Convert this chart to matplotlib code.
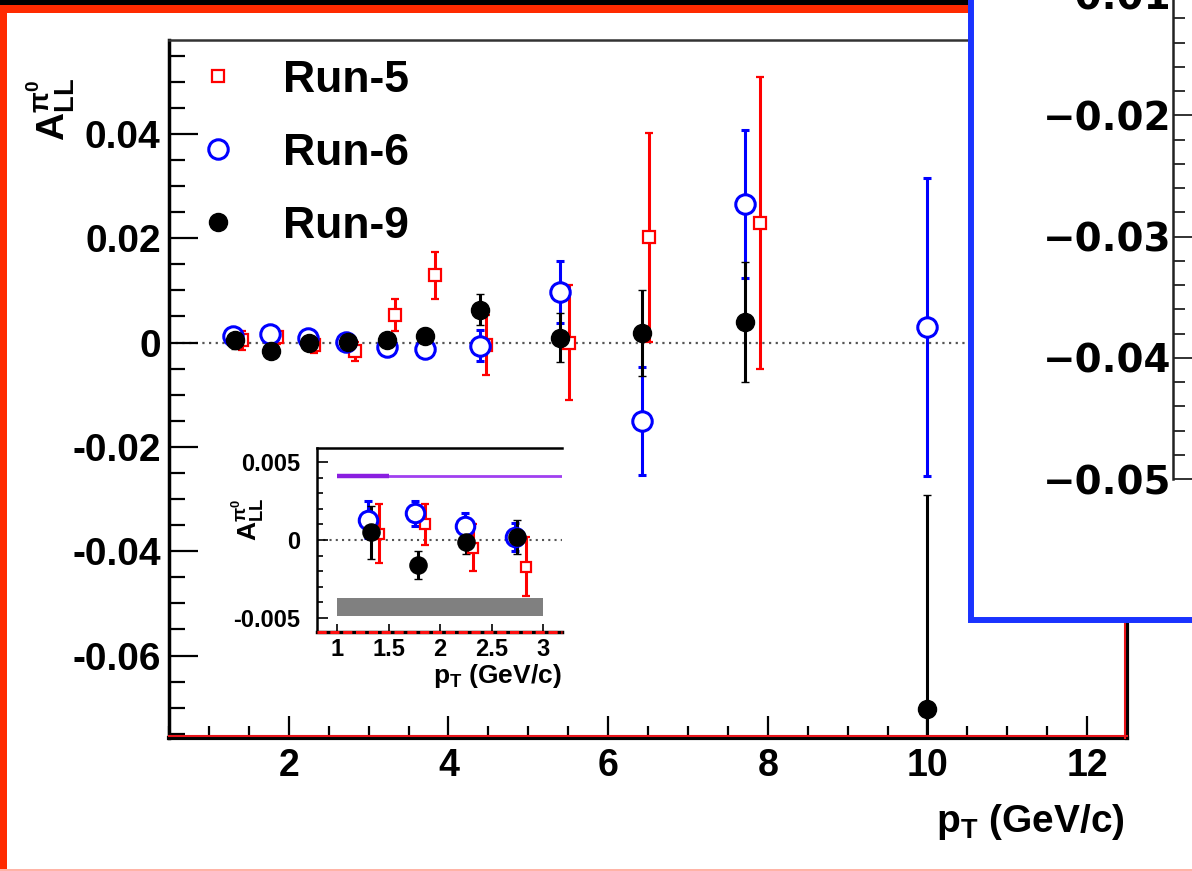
import matplotlib
matplotlib.use('Agg')
import matplotlib.pyplot as plt
from matplotlib.patches import Rectangle
from matplotlib.lines import Line2D
import matplotlib.transforms as mtransforms
import numpy as np

plt.rcParams['font.family'] = ['Liberation Sans', 'DejaVu Sans']
plt.rcParams['font.weight'] = 'bold'
plt.rcParams['mathtext.default'] = 'regular'
plt.rcParams['axes.unicode_minus'] = False

# ---------------- data ----------------
run5_pt = [1.41, 1.85, 2.32, 2.83, 3.33, 3.83, 4.47, 5.51, 6.51, 7.90]
run5_all = [0.0004, 0.0010, -0.0005, -0.0017, 0.0053, 0.0129, -0.0005, 0.0000, 0.0202, 0.0229]
run5_err = [0.0019, 0.0013, 0.0015, 0.0019, 0.0030, 0.0045, 0.0057, 0.0110, 0.0200, 0.0280]

run6_pt = [1.30, 1.76, 2.24, 2.72, 3.23, 3.71, 4.40, 5.40, 6.42, 7.71, 10.0]
run6_all = [0.0013, 0.0017, 0.0009, 0.0002, -0.0008, -0.0013, -0.0006, 0.0097, -0.0150, 0.0265, 0.0030]
run6_err = [0.0012, 0.0008, 0.0008, 0.0009, 0.0010, 0.0015, 0.0030, 0.0060, 0.0104, 0.0142, 0.0285]

run9_pt = [1.33, 1.78, 2.25, 2.74, 3.23, 3.71, 4.39, 5.40, 6.42, 7.71, 10.0]
run9_all = [0.0005, -0.0016, -0.0001, 0.0002, 0.0005, 0.0012, 0.0063, 0.0009, 0.0018, 0.0040, -0.0702]
run9_err = [0.0017, 0.0009, 0.0008, 0.0011, 0.0010, 0.0015, 0.0030, 0.0047, 0.0082, 0.0115, 0.0410]

labels = ['Run-5', 'Run-6', 'Run-9']

main_xticks = [2, 4, 6, 8, 10, 12]
main_xticklabels = ['2', '4', '6', '8', '10', '12']
main_yticks = [-0.06, -0.04, -0.02, 0.0, 0.02, 0.04]
main_yticklabels = ['-0.06', '-0.04', '-0.02', '0', '0.02', '0.04']

inset_xticks = [1, 1.5, 2, 2.5, 3]
inset_xticklabels = ['1', '1.5', '2', '2.5', '3']
inset_yticks = [-0.005, 0.0, 0.005]
inset_yticklabels = ['-0.005', '0', '0.005']
inset_pt_max = 3.0

purple_level = 0.0041
purple_thick_range = [1.0, 1.5]
purple_start = 1.0
band_x = [1.0, 3.0]
band_y = [-0.0049, -0.0037]

box_yticks = [-0.05, -0.04, -0.03, -0.02, -0.01]
box_yticklabels = ['\u22120.05', '\u22120.04', '\u22120.03', '\u22120.02', '\u22120.01']

# ---------------- figure ----------------
W, H = 1192, 871
fig = plt.figure(figsize=(W / 100, H / 100), dpi=100)


def fbox(l, t, r, b):
    return [l / W, 1 - b / H, (r - l) / W, (b - t) / H]


def px_rect(l, t, r, b, **kw):
    fig.add_artist(Rectangle((l / W, 1 - b / H), (r - l) / W, (b - t) / H,
                             transform=fig.transFigure, **kw))


RED = '#ff0000'
BLUE = '#0000ff'
BLACK = '#000000'

series = [
    (run5_pt, run5_all, run5_err, dict(marker='s', color=RED, mfc='white', mec=RED, ms=8, mew=1.6)),
    (run6_pt, run6_all, run6_err, dict(marker='o', color=BLUE, mfc='white', mec=BLUE, ms=14, mew=2.2)),
    (run9_pt, run9_all, run9_err, dict(marker='o', color=BLACK, mfc=BLACK, mec=BLACK, ms=13, mew=1)),
]

# ---------------- main axes ----------------
ax = fig.add_axes(fbox(169, 40, 1127, 738))
ax.set_zorder(0)
ax.set_xlim(0.5, 12.5)
ax.set_ylim(-0.0758, 0.058)
ax.set_xticks(main_xticks)
ax.set_xticklabels(main_xticklabels)
ax.set_yticks(main_yticks)
ax.set_yticklabels(main_yticklabels)
ax.set_xticks(np.arange(0.5, 12.51, 0.5), minor=True)
ax.set_yticks(np.arange(-0.075, 0.0551, 0.005), minor=True)
ax.tick_params(axis='both', which='both', direction='in', top=False, right=False, color='black')
ax.tick_params(axis='y', which='major', length=21, width=1.6, labelsize=28, pad=6)
ax.tick_params(axis='y', which='minor', length=11.5, width=1.6)
ax.tick_params(axis='x', which='major', length=16, width=1.6, labelsize=27, pad=7)
ax.tick_params(axis='x', which='minor', length=8.5, width=1.6)
ax.spines['left'].set_linewidth(2.5)
ax.spines['top'].set_linewidth(1.8)
ax.spines['top'].set_color('#333333')
for s in ['bottom', 'right']:
    ax.spines[s].set_linewidth(3.0)
    ax.spines[s].set_color('black')
tb = mtransforms.offset_copy(ax.transAxes, fig=fig, x=0, y=1.6, units='dots')
ax.add_line(Line2D([0, 1], [0, 0], transform=tb, color='#e8141a', lw=1.5, clip_on=False, zorder=5))
tr = mtransforms.offset_copy(ax.transAxes, fig=fig, x=-1.6, y=0, units='dots')
ax.add_line(Line2D([1, 1], [0, 1], transform=tr, color='#e8141a', lw=1.5, clip_on=False, zorder=5))

ax.axhline(0, color='#555555', ls=(0, (1, 2)), lw=1.6, zorder=1)

for x, y, e, st in series:
    ax.errorbar(x, y, yerr=e, fmt=st['marker'], color=st['color'], mfc=st['mfc'],
                mec=st['mec'], ms=st['ms'], mew=st['mew'], elinewidth=2.2,
                capsize=3, capthick=2.5, zorder=3)

handles = [Line2D([], [], ls='none', marker=st['marker'], mfc=st['mfc'], mec=st['mec'],
                  ms=st['ms'], mew=st['mew']) for _, _, _, st in series]
ax.legend(handles, labels, loc='upper left', bbox_to_anchor=(196 / W, 1 - 60 / H),
          bbox_transform=fig.transFigure, frameon=False, prop={'weight': 'bold', 'size': 32},
          handlelength=1.0, handletextpad=0.95, labelspacing=0.72, borderpad=0, borderaxespad=0)

fig.text(51 / W, 1 - 78 / H, r'A$_{LL}^{\pi^{0}}$', rotation=90, ha='center', va='top',
         fontsize=28, fontweight='bold')
fig.text(1125 / W, 1 - 832 / H, r'p$_{T}$ (GeV/c)', ha='right', va='baseline',
         fontsize=28, fontweight='bold')

# ---------------- inset ----------------
ins = fig.add_axes(fbox(317, 448, 562, 632))
ins.set_zorder(1)
ins.set_xlim(0.806, 3.18)
ins.set_ylim(-0.0059, 0.0059)
ins.set_xticks(inset_xticks)
ins.set_xticklabels(inset_xticklabels)
ins.set_yticks(inset_yticks)
ins.set_yticklabels(inset_yticklabels)
ins.set_yticks(np.arange(-0.005, 0.0051, 0.001), minor=True)
ins.tick_params(axis='both', which='both', direction='in', top=False, right=False)
ins.tick_params(axis='y', which='major', length=8, width=1.2, labelsize=17, pad=12)
ins.tick_params(axis='y', which='minor', length=4.5, width=1.2)
ins.tick_params(axis='x', which='major', length=6, width=1.2, labelsize=17, pad=4)
ins.spines['right'].set_visible(False)
ins.spines['left'].set_linewidth(1.8)
ins.spines['top'].set_linewidth(1.8)
ins.spines['bottom'].set_linewidth(2.5)
ins.spines['bottom'].set_color('black')
ins.add_line(Line2D([0, 1], [0, 0], transform=ins.transAxes, color='#ff1010', lw=2.2,
                    ls=(0, (3, 1.2)), clip_on=False, zorder=5))

ins.axhline(0, color='#555555', ls=(0, (1, 2)), lw=1.5, zorder=1)
ins.hlines(purple_level, purple_start, 3.18, color='#a040f0', lw=2.0, zorder=2)
ins.hlines(purple_level, purple_thick_range[0], purple_thick_range[1], color='#8a1ee0', lw=3.2, zorder=2)
ins.fill_between(band_x, band_y[0], band_y[1], color='#808080', lw=0, zorder=2)

for x, y, e, st in series:
    xs = np.array(x)
    m = xs < inset_pt_max
    ins.errorbar(xs[m], np.array(y)[m], yerr=np.array(e)[m], fmt=st['marker'], color=st['color'],
                 mfc=st['mfc'], mec=st['mec'], ms=st['ms'] * 0.95, mew=st['mew'],
                 elinewidth=2.2, capsize=3, capthick=2.5, zorder=3)

fig.text(248 / W, 1 - 498 / H, r'A$_{LL}^{\pi^{0}}$', rotation=90, ha='center', va='top',
         fontsize=19, fontweight='bold')
fig.text(562 / W, 1 - 683 / H, r'p$_{T}$ (GeV/c)', ha='right', va='baseline',
         fontsize=19, fontweight='bold')

# ---------------- outer frame ----------------
px_rect(0, 0, W, 5, facecolor='black', edgecolor='none', zorder=4)
px_rect(0, 5, W, 13, facecolor='#ff2a00', edgecolor='none', zorder=4)
px_rect(0, 5, 7, H, facecolor='#ff2a00', edgecolor='none', zorder=4)
px_rect(0, 868.5, W, H, facecolor='#ffb3a6', edgecolor='none', zorder=4)

# ---------------- overlay blue box ----------------
px_rect(971, -20, 1215, 620, facecolor='white', edgecolor='#1a33ff', lw=4.3, zorder=5)

bax = fig.add_axes(fbox(1173, -30, 1215, 479))
bax.set_zorder(6)
bax.patch.set_visible(False)
bax.set_ylim(-0.05, -0.05 + (479 + 30) / 12167.0)
bax.set_xlim(0, 1)
bax.set_xticks([])
bax.set_yticks(box_yticks)
bax.set_yticklabels(box_yticklabels, fontfamily='DejaVu Sans', fontweight='bold')
bax.set_yticks(np.arange(-0.05, -0.0079, 0.002), minor=True)
bax.tick_params(axis='y', which='both', direction='in', color='#222222')
bax.tick_params(axis='y', which='major', length=16, width=1.3, labelsize=28, pad=1)
bax.tick_params(axis='y', which='minor', length=8.6, width=1.3)
for s in ['top', 'right', 'bottom']:
    bax.spines[s].set_visible(False)
bax.spines['left'].set_linewidth(1.8)
bax.spines['left'].set_color('#222222')

fig.savefig('out.png', dpi=100)
